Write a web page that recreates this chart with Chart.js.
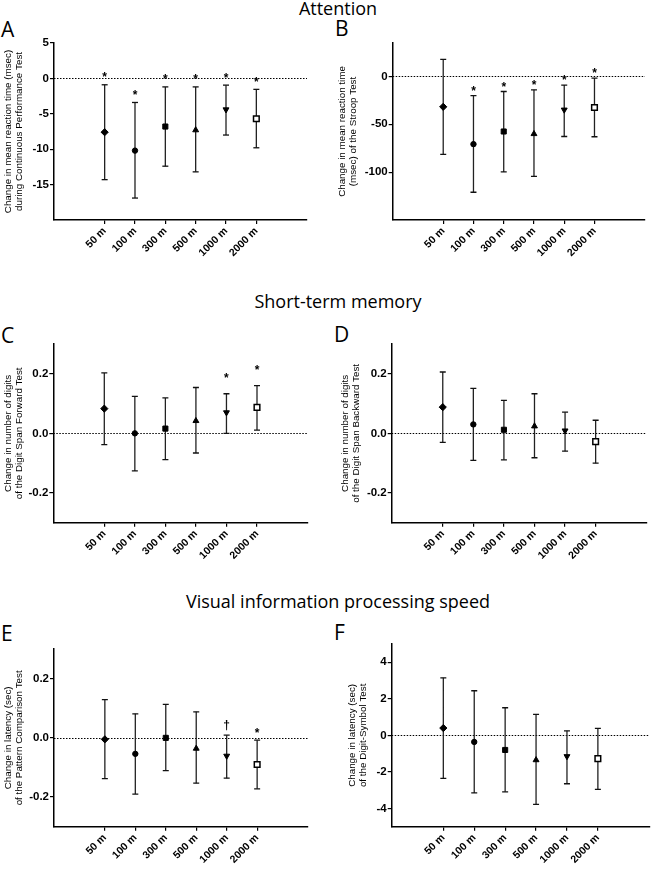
<!DOCTYPE html>
<html>
<head>
<meta charset="utf-8">
<script src="https://cdn.jsdelivr.net/npm/chart.js@4.4.0/dist/chart.umd.min.js"></script>
<style>
  body { margin: 0; background: #fff; width: 655px; height: 873px; position: relative; overflow: hidden; }
  .sec { position: absolute; left: 0; width: 676px; text-align: center; font-family: 'Open Sans', sans-serif; font-size: 18px; line-height: 1; color: #000; }
  .lab { position: absolute; font-family: 'Open Sans', sans-serif; font-size: 21px; line-height: 1; color: #000; }
  canvas { position: absolute; }
</style>
</head>
<body>
<div class="sec" style="top:-1px">Attention</div>
<div class="sec" style="top:292px">Short-term memory</div>
<div class="sec" style="top:592px">Visual information processing speed</div>
<div class="lab" style="left:1px;top:19px">A</div>
<div class="lab" style="left:335px;top:18px">B</div>
<div class="lab" style="left:1px;top:325px">C</div>
<div class="lab" style="left:334px;top:324px">D</div>
<div class="lab" style="left:1px;top:623px">E</div>
<div class="lab" style="left:334px;top:622px">F</div>

<script>
// altitude groups on the x axis
const distances = ['50 m', '100 m', '300 m', '500 m', '1000 m', '2000 m'];

// A: continuous performance test (msec)
const cptMean  = [-7.6, -10.2, -6.8, -7.3, -4.4, -5.7];
const cptLow   = [-14.3, -16.9, -12.4, -13.2, -8.0, -9.8];
const cptHigh  = [-0.9, -3.4, -1.2, -1.2, -0.95, -1.55];
const cptMarks = ['*', '*', '*', '*', '*', '*'];
const cptTicks = [5, 0, -5, -10, -15];

// B: Stroop test (msec)
const stroopMean  = [-31.7, -70.7, -57.5, -60, -34.8, -32.4];
const stroopLow   = [-81.5, -121, -99.7, -104.5, -62.7, -63];
const stroopHigh  = [17.8, -19.9, -15.7, -13.9, -9, -1.7];
const stroopMarks = ['', '*', '*', '*', '*', '*'];
const stroopTicks = [0, -50, -100];

// C: digit span forward
const dsfMean  = [0.083, 0, 0.016, 0.042, 0.07, 0.087];
const dsfLow   = [-0.038, -0.126, -0.088, -0.066, 0.0, 0.011];
const dsfHigh  = [0.203, 0.124, 0.119, 0.154, 0.133, 0.16];
const dsfMarks = ['', '', '', '', '*', '*'];

// D: digit span backward
const dsbMean = [0.088, 0.03, 0.012, 0.024, 0.009, -0.028];
const dsbLow  = [-0.03, -0.091, -0.089, -0.082, -0.06, -0.1];
const dsbHigh = [0.206, 0.151, 0.111, 0.133, 0.071, 0.044];

// E: pattern comparison (sec)
const pcMean  = [-0.005, -0.054, 0.0, -0.036, -0.061, -0.09];
const pcLow   = [-0.138, -0.19, -0.111, -0.153, -0.136, -0.172];
const pcHigh  = [0.129, 0.081, 0.113, 0.088, 0.009, -0.008];
const pcMarks = ['', '', '', '', '\u2020', '*'];

// F: digit-symbol (sec)
const dssMean = [0.4, -0.36, -0.8, -1.35, -1.15, -1.27];
const dssLow  = [-2.36, -3.15, -3.09, -3.78, -2.65, -2.96];
const dssHigh = [3.15, 2.44, 1.51, 1.15, 0.25, 0.38];

const smallTicks = [0.2, 0, -0.2];
const dssTicks = [4, 2, 0, -2, -4];

const panels = [
  { left: 0, width: 325, area: { left: 54, top: 43, right: 307, bottom: 220 }, yMin: -20, yMax: 5,
    ticks: cptTicks, dec: 0, titlePad: 2.5,
    title: ['Change in mean reaction time (msec)', 'during Continuous Performance Test'],
    mean: cptMean, low: cptLow, high: cptHigh, marks: cptMarks, gap: 10 },
  { left: 325, width: 330, area: { left: 392.7, top: 43, right: 645, bottom: 220 }, yMin: -150, yMax: 35,
    ticks: stroopTicks, dec: 0, titlePad: 11.5,
    title: ['Change in mean reaction time', '(msec) of the Stroop Test'],
    mean: stroopMean, low: stroopLow, high: stroopHigh, marks: stroopMarks, gap: 7.5 },
  { left: 0, width: 325, area: { left: 53.3, top: 344, right: 308, bottom: 522.7 }, yMin: -0.3, yMax: 0.3,
    ticks: smallTicks, dec: 1, titlePad: 2.5,
    title: ['Change in number of digits', 'of the Digit Span Forward Test'],
    mean: dsfMean, low: dsfLow, high: dsfHigh, marks: dsfMarks, gap: 18 },
  { left: 325, width: 330, area: { left: 391.7, top: 344, right: 646.7, bottom: 522.7 }, yMin: -0.3, yMax: 0.3,
    ticks: smallTicks, dec: 1, titlePad: 15,
    title: ['Change in number of digits', 'of the Digit Span Backward Test'],
    mean: dsbMean, low: dsbLow, high: dsbHigh, marks: [], gap: 0 },
  { left: 0, width: 325, area: { left: 54, top: 649, right: 308, bottom: 826.7 }, yMin: -0.3, yMax: 0.3,
    ticks: smallTicks, dec: 1, titlePad: 2.5,
    title: ['Change in latency (sec)', 'of the Pattern Comparison Test'],
    mean: pcMean, low: pcLow, high: pcHigh, marks: pcMarks, gap: 10 },
  { left: 325, width: 330, area: { left: 391.7, top: 644, right: 653.3, bottom: 826.7 }, yMin: -5, yMax: 5,
    ticks: dssTicks, dec: 0, titlePad: 21.5,
    title: ['Change in latency (sec)', 'of the Digit-Symbol Test'],
    mean: dssMean, low: dssLow, high: dssHigh, marks: [], gap: 0 }
];

const markerStyle  = ['rectRot', 'circle', 'rect', 'triangle', 'triangle', 'rect'];
const markerRot    = [0, 0, 0, 0, 180, 0];
const markerRadius = [3.6, 2.7, 3.6, 3.4, 3.4, 4];
const markerFill   = ['#000', '#000', '#000', '#000', '#000', '#fff'];

const axisFont = { family: "'Liberation Sans', Arial, sans-serif", weight: 'bold' };

function buildPanel(p) {
  const top = Math.round(p.area.top - 10);
  const h = Math.round(p.area.bottom + 46) - top;
  const xH = h - (p.area.bottom - top);

  const cv = document.createElement('canvas');
  cv.width = p.width;
  cv.height = h;
  cv.style.left = p.left + 'px';
  cv.style.top = top + 'px';
  cv.style.width = p.width + 'px';
  cv.style.height = h + 'px';
  document.body.appendChild(cv);

  // dotted reference line at zero
  const zeroLine = {
    id: 'zeroLine',
    beforeDatasetsDraw(chart) {
      const { ctx, chartArea, scales: { y } } = chart;
      const yy = Math.round(y.getPixelForValue(0)) + 0.5;
      ctx.save();
      ctx.strokeStyle = '#000';
      ctx.lineWidth = 1;
      ctx.setLineDash([1.5, 1.5]);
      ctx.beginPath();
      ctx.moveTo(chartArea.left, yy);
      ctx.lineTo(chartArea.right, yy);
      ctx.stroke();
      ctx.restore();
    }
  };

  // significance symbols above the upper whisker
  const sigMarks = {
    id: 'sigMarks',
    afterDatasetsDraw(chart) {
      const { ctx, scales: { x, y } } = chart;
      ctx.save();
      ctx.fillStyle = '#000';
      ctx.font = "bold 12px 'Liberation Sans', Arial, sans-serif";
      ctx.textAlign = 'center';
      ctx.textBaseline = 'alphabetic';
      p.marks.forEach((m, i) => {
        if (!m) return;
        const tm = ctx.measureText(m);
        const mid = y.getPixelForValue(p.high[i]) - p.gap;
        const base = mid + (tm.actualBoundingBoxAscent - tm.actualBoundingBoxDescent) / 2;
        ctx.fillText(m, x.getPixelForValue(i), base);
      });
      ctx.restore();
    }
  };

  const stems = p.mean.flatMap((_, i) => [{ x: i, y: p.low[i] }, { x: i, y: p.high[i] }, { x: i, y: null }]);
  const caps = p.mean.flatMap((_, i) => [{ x: i, y: p.low[i] }, { x: i, y: p.high[i] }]);
  const means = p.mean.map((v, i) => ({ x: i, y: v }));

  new Chart(cv, {
    type: 'scatter',
    data: {
      datasets: [
        {
          data: means,
          pointStyle: markerStyle,
          rotation: markerRot,
          pointRadius: markerRadius,
          backgroundColor: markerFill,
          borderColor: '#000',
          borderWidth: [1, 1, 1, 1, 1, 1.5]
        },
        {
          data: caps,
          pointStyle: 'line',
          pointRadius: 3,
          borderColor: '#111',
          borderWidth: 1.3
        },
        {
          data: stems,
          showLine: true,
          spanGaps: false,
          pointRadius: 0,
          borderColor: '#222',
          borderWidth: 1.3
        }
      ]
    },
    options: {
      responsive: false,
      animation: false,
      events: [],
      layout: { padding: { top: p.area.top - top, right: p.left + p.width - p.area.right, left: 0, bottom: 0 } },
      plugins: { legend: { display: false }, tooltip: { enabled: false } },
      scales: {
        x: {
          type: 'linear',
          min: -1.67,
          max: 6.67,
          border: { color: '#000', width: 1.5 },
          grid: { drawOnChartArea: false, drawTicks: true, tickLength: 4, color: '#000', lineWidth: 1.2 },
          ticks: {
            color: '#000',
            font: { ...axisFont, size: 10.5 },
            minRotation: 45,
            maxRotation: 45,
            autoSkip: false,
            padding: 1,
            callback: v => distances[v]
          },
          afterBuildTicks: s => { s.ticks = distances.map((_, i) => ({ value: i })); },
          afterFit: s => { s.height = xH; }
        },
        y: {
          type: 'linear',
          min: p.yMin,
          max: p.yMax,
          border: { color: '#000', width: 1.5 },
          grid: { drawOnChartArea: false, drawTicks: true, tickLength: 4, color: '#000', lineWidth: 1.2 },
          ticks: {
            color: '#000',
            font: { ...axisFont, size: 11.5 },
            padding: 1,
            callback: v => p.dec ? v.toFixed(p.dec) : String(v)
          },
          afterBuildTicks: s => { s.ticks = p.ticks.map(v => ({ value: v })); },
          afterFit: s => { s.width = p.area.left - p.left; },
          title: {
            display: true,
            text: p.title,
            color: '#000',
            font: { family: "'Liberation Sans', Arial, sans-serif", size: 9.8, lineHeight: 1.12 },
            padding: { top: p.titlePad, bottom: 0 }
          }
        }
      }
    },
    plugins: [zeroLine, sigMarks]
  });
}

panels.forEach(buildPanel);
</script>
</body>
</html>
